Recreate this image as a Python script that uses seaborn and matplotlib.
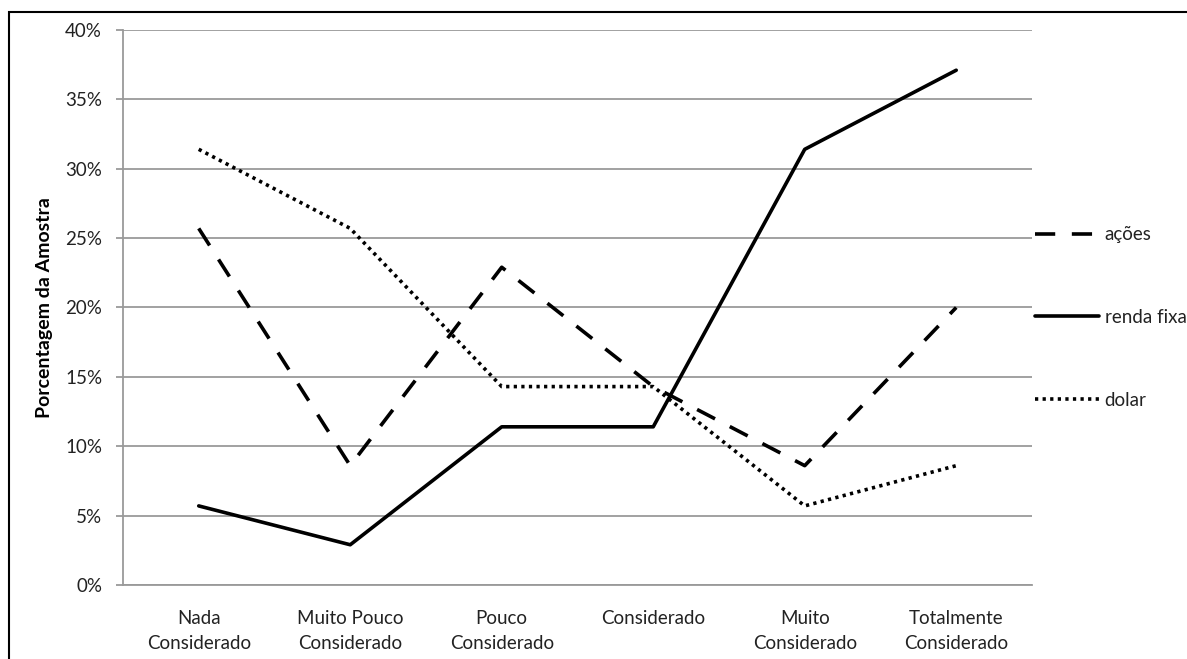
import pandas as pd
import matplotlib.pyplot as plt
import seaborn as sns
from matplotlib.ticker import PercentFormatter, MultipleLocator
from matplotlib.lines import Line2D
from matplotlib.patches import Rectangle

# Data (percent of sample)
categorias = ["Nada\nConsiderado", "Muito Pouco\nConsiderado", "Pouco\nConsiderado",
              "Considerado", "Muito\nConsiderado", "Totalmente\nConsiderado"]
acoes = [25.7, 8.6, 22.9, 14.3, 8.6, 20.0]
renda_fixa = [5.7, 2.9, 11.4, 11.4, 31.4, 37.1]
dolar = [31.4, 25.7, 14.3, 14.3, 5.7, 8.6]
series = ["ações", "renda fixa", "dolar"]

df = pd.concat([
    pd.DataFrame({"cat": categorias, "valor": acoes, "serie": "ações"}),
    pd.DataFrame({"cat": categorias, "valor": renda_fixa, "serie": "renda fixa"}),
    pd.DataFrame({"cat": categorias, "valor": dolar, "serie": "dolar"}),
])

sns.set_theme(style="white")
plt.rcParams["font.family"] = ["Lato", "DejaVu Sans"]

fig = plt.figure(figsize=(11.87, 6.59), dpi=100)
ax = fig.add_axes([0.1036, 0.1123, 0.7658, 0.8422])

lw = 2.6
dash_styles = {"ações": (5.6, 4.6), "renda fixa": "", "dolar": (0.9, 1.2)}
sns.lineplot(data=df, x="cat", y="valor", style="serie", style_order=series,
             dashes=dash_styles, color="black", linewidth=lw, sort=False,
             legend=False, ax=ax)

ax.set_xlim(-0.5, 5.5)
ax.set_ylim(0, 40)
ax.yaxis.set_major_locator(MultipleLocator(5))
ax.yaxis.set_major_formatter(PercentFormatter(decimals=0))
ax.grid(axis="y", color="#9a9a9a", linewidth=1.3)
ax.set_axisbelow(True)
for s in ["top", "right"]:
    ax.spines[s].set_visible(False)
for s in ["left", "bottom"]:
    ax.spines[s].set_color("#9a9a9a")
    ax.spines[s].set_linewidth(1.3)

ax.tick_params(axis="y", left=True, length=5, width=1.3, color="#9a9a9a",
               pad=10, labelsize=13.5, labelcolor="#222222")
ax.tick_params(axis="x", bottom=False, pad=12, labelsize=13.5, labelcolor="#222222")
for lab in ax.get_xticklabels():
    lab.set_linespacing(1.55)
ax.set_xlabel("")
ax.set_ylabel("Porcentagem da Amostra", fontsize=14, fontweight="bold", color="black")
ax.yaxis.set_label_coords(-0.077, 0.5)

handles = [Line2D([], [], color="black", linewidth=lw, dashes=dash_styles[s])
           if dash_styles[s] != "" else Line2D([], [], color="black", linewidth=lw)
           for s in series]
ax.legend(handles, series, loc="center left", bbox_to_anchor=(0.985, 0.482),
          frameon=False, fontsize=13.5, handlelength=3.4, handletextpad=0.3,
          labelspacing=3.5, labelcolor="#222222")

# outer frame
fig.patches.append(Rectangle((9 / 1187, -0.1), 1.2, 1.1 - 12 / 659,
                             transform=fig.transFigure, fill=False,
                             edgecolor="black", linewidth=1.5))

fig.savefig("out.png", dpi=100)
